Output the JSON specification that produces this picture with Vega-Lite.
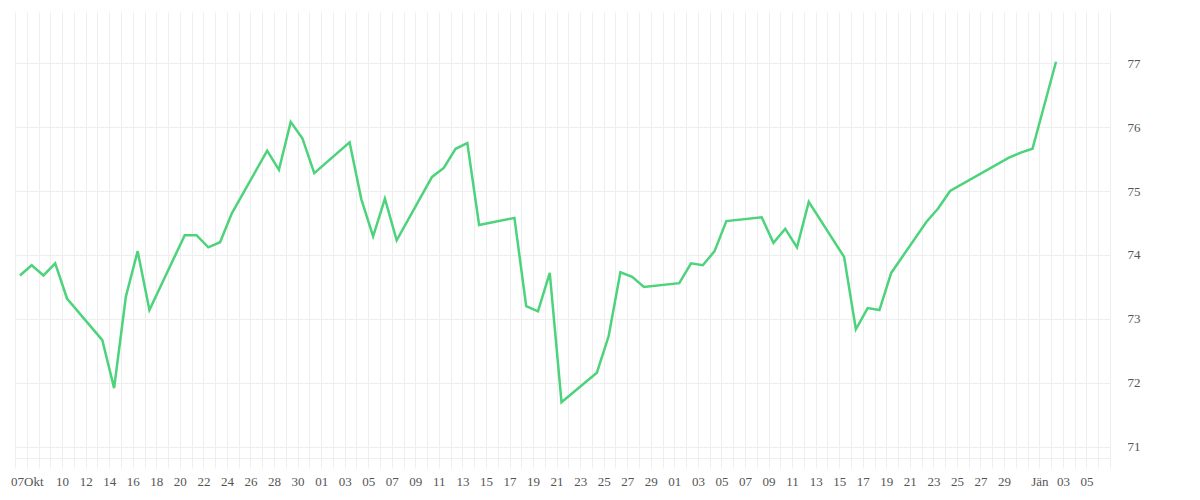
{
  "$schema": "https://vega.github.io/schema/vega-lite/v6.json",
  "width": 1095,
  "height": 446,
  "autosize": "none",
  "padding": {"left": 15, "top": 12, "right": 90, "bottom": 42},
  "background": "white",
  "data": {
    "values": [
      {"date": "2025-10-06T10:00:00Z", "value": 73.68},
      {"date": "2025-10-07T10:00:00Z", "value": 73.84},
      {"date": "2025-10-08T10:00:00Z", "value": 73.68},
      {"date": "2025-10-09T10:00:00Z", "value": 73.87},
      {"date": "2025-10-10T10:00:00Z", "value": 73.32},
      {"date": "2025-10-13T10:00:00Z", "value": 72.67},
      {"date": "2025-10-14T10:00:00Z", "value": 71.92},
      {"date": "2025-10-15T10:00:00Z", "value": 73.35},
      {"date": "2025-10-16T10:00:00Z", "value": 74.06},
      {"date": "2025-10-17T10:00:00Z", "value": 73.14},
      {"date": "2025-10-20T10:00:00Z", "value": 74.31},
      {"date": "2025-10-21T10:00:00Z", "value": 74.31},
      {"date": "2025-10-22T10:00:00Z", "value": 74.12},
      {"date": "2025-10-23T10:00:00Z", "value": 74.20},
      {"date": "2025-10-24T10:00:00Z", "value": 74.65},
      {"date": "2025-10-27T10:00:00Z", "value": 75.63},
      {"date": "2025-10-28T10:00:00Z", "value": 75.33},
      {"date": "2025-10-29T10:00:00Z", "value": 76.08},
      {"date": "2025-10-30T10:00:00Z", "value": 75.82},
      {"date": "2025-10-31T10:00:00Z", "value": 75.28},
      {"date": "2025-11-03T10:00:00Z", "value": 75.76},
      {"date": "2025-11-04T10:00:00Z", "value": 74.87},
      {"date": "2025-11-05T10:00:00Z", "value": 74.29},
      {"date": "2025-11-06T10:00:00Z", "value": 74.88},
      {"date": "2025-11-07T10:00:00Z", "value": 74.23},
      {"date": "2025-11-10T10:00:00Z", "value": 75.22},
      {"date": "2025-11-11T10:00:00Z", "value": 75.36},
      {"date": "2025-11-12T10:00:00Z", "value": 75.66},
      {"date": "2025-11-13T10:00:00Z", "value": 75.75},
      {"date": "2025-11-14T10:00:00Z", "value": 74.47},
      {"date": "2025-11-17T10:00:00Z", "value": 74.58},
      {"date": "2025-11-18T10:00:00Z", "value": 73.20},
      {"date": "2025-11-19T10:00:00Z", "value": 73.12},
      {"date": "2025-11-20T10:00:00Z", "value": 73.72},
      {"date": "2025-11-21T10:00:00Z", "value": 71.70},
      {"date": "2025-11-24T10:00:00Z", "value": 72.16},
      {"date": "2025-11-25T10:00:00Z", "value": 72.73},
      {"date": "2025-11-26T10:00:00Z", "value": 73.73},
      {"date": "2025-11-27T10:00:00Z", "value": 73.66},
      {"date": "2025-11-28T10:00:00Z", "value": 73.50},
      {"date": "2025-12-01T10:00:00Z", "value": 73.56},
      {"date": "2025-12-02T10:00:00Z", "value": 73.87},
      {"date": "2025-12-03T10:00:00Z", "value": 73.84},
      {"date": "2025-12-04T10:00:00Z", "value": 74.06},
      {"date": "2025-12-05T10:00:00Z", "value": 74.53},
      {"date": "2025-12-08T10:00:00Z", "value": 74.59},
      {"date": "2025-12-09T10:00:00Z", "value": 74.19},
      {"date": "2025-12-10T10:00:00Z", "value": 74.41},
      {"date": "2025-12-11T10:00:00Z", "value": 74.12},
      {"date": "2025-12-12T10:00:00Z", "value": 74.83},
      {"date": "2025-12-15T10:00:00Z", "value": 73.97},
      {"date": "2025-12-16T10:00:00Z", "value": 72.84},
      {"date": "2025-12-17T10:00:00Z", "value": 73.17},
      {"date": "2025-12-18T10:00:00Z", "value": 73.14},
      {"date": "2025-12-19T10:00:00Z", "value": 73.72},
      {"date": "2025-12-22T10:00:00Z", "value": 74.52},
      {"date": "2025-12-23T10:00:00Z", "value": 74.73},
      {"date": "2025-12-24T10:00:00Z", "value": 75.00},
      {"date": "2025-12-29T10:00:00Z", "value": 75.52},
      {"date": "2025-12-30T10:00:00Z", "value": 75.60},
      {"date": "2025-12-31T10:00:00Z", "value": 75.66},
      {"date": "2026-01-02T10:00:00Z", "value": 77.02}
    ]
  },
  "mark": {"type": "line", "color": "#4cd37b", "strokeWidth": 2.5},
  "encoding": {
    "x": {
      "field": "date",
      "type": "temporal",
      "scale": {
        "type": "utc",
        "domain": [
          {"year": 2025, "month": 10, "date": 6, "utc": true},
          {"year": 2026, "month": 1, "date": 7, "utc": true}
        ]
      },
      "axis": {
        "title": null,
        "tickCount": {"interval": "day", "step": 1},
        "labelOverlap": false,
        "labelFlush": false,
        "grid": true,
        "gridColor": "#eeeeee",
        "tickColor": "#eeeeee",
        "tickSize": 10,
        "domainColor": "#eeeeee",
        "labelPadding": 7,
        "labelExpr": "utcmonth(datum.value) == 9 && utcdate(datum.value) == 7 ? '07Okt' : utcmonth(datum.value) == 9 && utcdate(datum.value) >= 10 && utcdate(datum.value) % 2 == 0 ? utcFormat(datum.value, '%d') : (utcmonth(datum.value) == 10 || utcmonth(datum.value) == 11) && utcdate(datum.value) % 2 == 1 && utcdate(datum.value) <= 29 ? utcFormat(datum.value, '%d') : utcmonth(datum.value) == 0 && utcdate(datum.value) == 1 ? 'Jän' : utcmonth(datum.value) == 0 && utcdate(datum.value) % 2 == 1 && utcdate(datum.value) <= 5 ? utcFormat(datum.value, '%d') : ''"
      }
    },
    "y": {
      "field": "value",
      "type": "quantitative",
      "scale": {"domain": [70.828, 77.797], "nice": false, "zero": false},
      "axis": {
        "title": null,
        "orient": "right",
        "values": [71, 72, 73, 74, 75, 76, 77],
        "domain": false,
        "ticks": false,
        "grid": true,
        "gridColor": "#eeeeee",
        "labelPadding": 17
      }
    }
  },
  "config": {
    "view": {"stroke": null},
    "axis": {
      "labelFont": "Liberation Serif",
      "labelFontSize": 13,
      "labelColor": "#555555"
    }
  }
}
